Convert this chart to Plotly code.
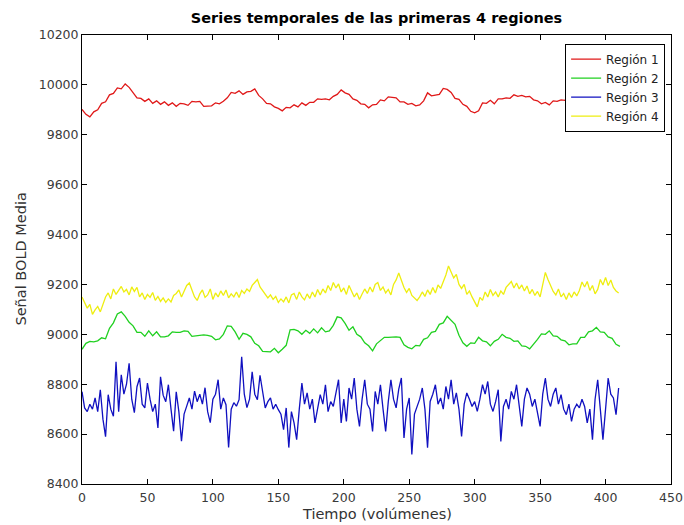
import plotly.graph_objects as go

# ---- data ----
# regions 1 and 2 sampled every 3 volumes, regions 3 and 4 every 2 volumes
step12 = 3
step34 = 2
region1 = [9902, 9882, 9872, 9892, 9900, 9926, 9932, 9960, 9966, 9988, 9984, 10004, 9990, 9970, 9948, 9946,
           9934, 9944, 9926, 9936, 9922, 9932, 9918, 9928, 9914, 9926, 9924, 9918, 9934, 9932, 9934, 9914,
           9914, 9916, 9928, 9924, 9934, 9948, 9970, 9966, 9976, 9962, 9972, 9974, 9984, 9958, 9944, 9926,
           9924, 9912, 9906, 9896, 9910, 9908, 9920, 9912, 9928, 9918, 9930, 9930, 9944, 9942, 9944, 9940,
           9954, 9962, 9980, 9968, 9962, 9944, 9938, 9924, 9922, 9908, 9920, 9922, 9940, 9936, 9952, 9950,
           9948, 9932, 9932, 9922, 9926, 9916, 9920, 9936, 9968, 9956, 9960, 9962, 9986, 9982, 9970, 9946,
           9942, 9922, 9914, 9894, 9888, 9896, 9928, 9926, 9938, 9924, 9944, 9944, 9948, 9946, 9960, 9954,
           9958, 9952, 9954, 9940, 9936, 9924, 9930, 9920, 9936, 9934, 9940, 9938, 9952, 9940, 9944, 9932,
           9946, 9942, 9944, 9930, 9942, 9940, 9944, 9932, 9946, 9936]
region2 = [8940, 8964, 8972, 8970, 8974, 8986, 8982, 9024, 9046, 9082, 9090, 9072, 9048, 9034, 9008, 9008,
           8992, 9014, 8994, 9010, 8990, 8990, 8994, 9010, 9008, 9008, 9014, 9012, 8992, 8994, 8998, 8998,
           8996, 8992, 8978, 8982, 9000, 9034, 9032, 9010, 8980, 9004, 9000, 8990, 8964, 8954, 8932, 8930,
           8930, 8944, 8926, 8940, 8956, 9018, 9020, 9014, 9000, 9016, 9004, 9022, 9006, 9026, 9010, 9014,
           9036, 9070, 9066, 9044, 9016, 9030, 9000, 8990, 8966, 8954, 8934, 8962, 8974, 8988, 8988, 8990,
           8990, 8988, 8958, 8948, 8942, 8956, 8954, 8980, 8986, 9008, 9012, 9040, 9046, 9072, 9054, 9040,
           8996, 8966, 8952, 8966, 8964, 8988, 8974, 8970, 8954, 8972, 8980, 9000, 8988, 8984, 8972, 8974,
           8954, 8952, 8942, 8960, 8980, 9002, 9000, 9014, 8994, 8992, 8978, 8974, 8958, 8962, 8962, 8988,
           8988, 9010, 9014, 9028, 9010, 9008, 8990, 8984, 8960, 8952]
region3 = [8770, 8705, 8690, 8720, 8700, 8745, 8690, 8778, 8660, 8590, 8758, 8700, 8672, 8890, 8690, 8838,
           8760, 8800, 8884, 8740, 8686, 8790, 8825, 8720, 8705, 8805, 8740, 8690, 8720, 8625, 8830, 8756,
           8730, 8798, 8700, 8612, 8770, 8690, 8572, 8680, 8712, 8745, 8700, 8772, 8730, 8760, 8720, 8786,
           8690, 8646, 8740, 8760, 8818, 8700, 8745, 8718, 8546, 8700, 8726, 8712, 8738, 8910, 8760, 8706,
           8740, 8850, 8760, 8738, 8836, 8760, 8705, 8730, 8745, 8700, 8720, 8698, 8680, 8618, 8705, 8546,
           8690, 8645, 8578, 8700, 8805, 8720, 8765, 8700, 8740, 8645, 8700, 8758, 8720, 8798, 8690, 8730,
           8711, 8760, 8818, 8645, 8740, 8651, 8785, 8740, 8825, 8700, 8631, 8740, 8818, 8720, 8700, 8611,
           8771, 8720, 8798, 8700, 8611, 8730, 8818, 8740, 8705, 8780, 8825, 8585, 8700, 8745, 8518, 8680,
           8711, 8740, 8785, 8700, 8545, 8731, 8760, 8798, 8720, 8745, 8700, 8791, 8740, 8818, 8720, 8765,
           8700, 8591, 8720, 8765, 8740, 8711, 8730, 8691, 8740, 8798, 8760, 8811, 8720, 8691, 8730, 8778,
           8571, 8711, 8740, 8700, 8771, 8740, 8798, 8720, 8631, 8740, 8785, 8760, 8711, 8740, 8680, 8631,
           8760, 8825, 8740, 8711, 8760, 8785, 8720, 8758, 8700, 8678, 8720, 8651, 8700, 8720, 8705, 8740,
           8711, 8645, 8700, 8578, 8740, 8818, 8700, 8578, 8700, 8825, 8760, 8745, 8678, 8785]
region4 = [9150, 9128, 9105, 9120, 9080, 9098, 9112, 9090, 9125, 9150, 9166, 9142, 9182, 9160, 9176, 9192,
           9170, 9180, 9158, 9190, 9172, 9188, 9150, 9166, 9140, 9160, 9148, 9168, 9136, 9152, 9132, 9146,
           9128, 9142, 9130, 9156, 9164, 9178, 9150, 9176, 9196, 9206, 9180, 9150, 9136, 9162, 9178, 9148,
           9158, 9182, 9140, 9166, 9150, 9174, 9156, 9178, 9146, 9162, 9150, 9170, 9148, 9176, 9164, 9182,
           9172, 9196, 9208, 9220, 9190, 9176, 9160, 9146, 9158, 9140, 9152, 9128, 9142, 9130, 9150, 9126,
           9158, 9164, 9140, 9170, 9150, 9138, 9162, 9144, 9170, 9150, 9180, 9158, 9182, 9166, 9196, 9176,
           9208, 9186, 9202, 9170, 9186, 9160, 9196, 9176, 9150, 9166, 9140, 9162, 9182, 9164, 9190, 9170,
           9200, 9208, 9176, 9190, 9166, 9180, 9158, 9200, 9218, 9246, 9212, 9188, 9168, 9184, 9156, 9146,
           9136, 9150, 9170, 9152, 9178, 9160, 9188, 9166, 9198, 9184, 9210, 9238, 9274, 9246, 9226, 9240,
           9200, 9184, 9200, 9160, 9174, 9150, 9132, 9110, 9148, 9136, 9170, 9150, 9180, 9156, 9170, 9150,
           9174, 9160, 9188, 9200, 9212, 9186, 9206, 9182, 9198, 9174, 9194, 9162, 9180, 9156, 9172, 9150,
           9200, 9248, 9220, 9196, 9172, 9158, 9182, 9150, 9164, 9140, 9166, 9148, 9170, 9154, 9176, 9210,
           9190, 9212, 9176, 9196, 9162, 9180, 9220, 9198, 9228, 9196, 9218, 9188, 9174, 9166]

names = ["Región 1", "Región 2", "Región 3", "Región 4"]
colors = ["#e01818", "#20d020", "#1010c0", "#eeee10"]
series = [(region1, step12), (region2, step12), (region3, step34), (region4, step34)]

title = "Series temporales de las primeras 4 regiones"
xlabel = "Tiempo (volúmenes)"
ylabel = "Señal BOLD Media"
x_ticks = [0, 50, 100, 150, 200, 250, 300, 350, 400, 450]
y_ticks = [8400, 8600, 8800, 9000, 9200, 9400, 9600, 9800, 10000, 10200]

fig = go.Figure()
for name, col, (vals, st) in zip(names, colors, series):
    xs = [i * st for i in range(len(vals))]
    fig.add_trace(go.Scatter(x=xs, y=vals, mode="lines", name=name,
                             line=dict(color=col, width=1.3)))

font_family = "DejaVu Sans"
axis_common = dict(showline=True, linecolor="black", linewidth=1, mirror="ticks",
                   ticks="inside", ticklen=5, tickcolor="black", showgrid=False,
                   zeroline=False, automargin=False,
                   tickfont=dict(family=font_family, size=12.5, color="#3a3a3a"))

plot_h = 525 - 35 - 41
plot_w = 684 - 82 - 13

fig.update_layout(
    width=684, height=525,
    margin=dict(l=82, r=13, t=35, b=41, pad=0),
    paper_bgcolor="white", plot_bgcolor="white",
    title=dict(text="<b>" + title + "</b>", x=(82 + 671) / 2 / 684, xanchor="center",
               y=1 - 18 / 525, yanchor="middle",
               font=dict(family=font_family, size=14.5, color="black")),
    xaxis=dict(range=[0, 450], tickvals=x_ticks, ticktext=[str(v) for v in x_ticks],
               ticklabelstandoff=2, **axis_common),
    yaxis=dict(range=[8400, 10200], tickvals=y_ticks, ticktext=[str(v) for v in y_ticks],
               **axis_common),
    legend=dict(x=0.99, y=0.981, xanchor="right", yanchor="top",
                bgcolor="white", bordercolor="black", borderwidth=1,
                font=dict(family=font_family, size=12, color="#222222"),
                tracegroupgap=0, itemwidth=30),
    showlegend=True,
    annotations=[
        dict(text=xlabel, xref="paper", yref="paper", x=0.5, y=-(514 - 484) / plot_h,
             xanchor="center", yanchor="middle", showarrow=False,
             font=dict(family=font_family, size=14.5, color="#333333")),
        dict(text=ylabel, xref="paper", yref="paper", x=-(82 - 20) / plot_w, y=0.5,
             xanchor="center", yanchor="middle", showarrow=False, textangle=-90,
             font=dict(family=font_family, size=14.5, color="#333333")),
    ],
)

fig.write_html("out.html")
